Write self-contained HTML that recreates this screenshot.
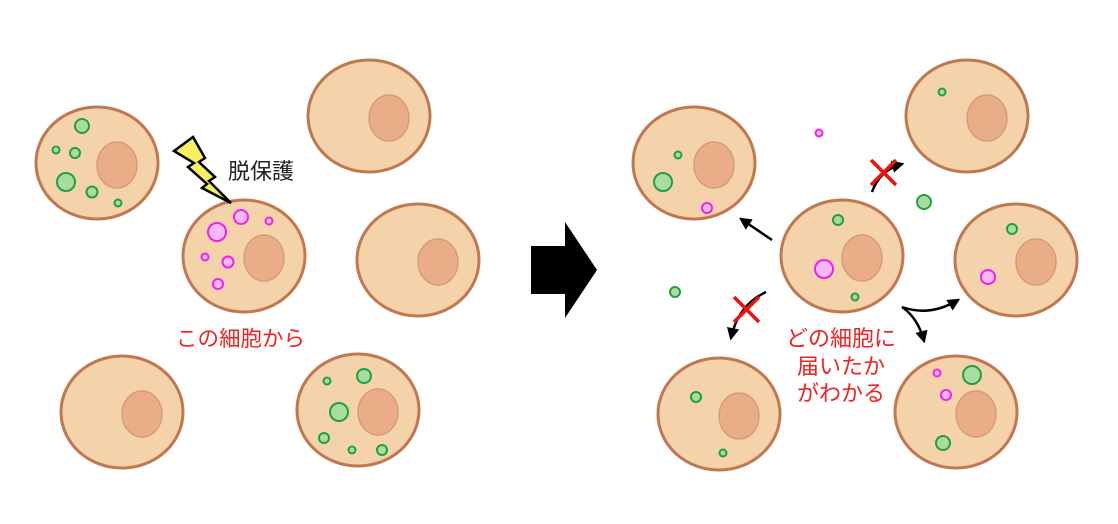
<!DOCTYPE html>
<html><head><meta charset="utf-8"><style>
html,body{margin:0;padding:0;background:#fff;}
svg{display:block;}
text{font-family:"Liberation Sans","Noto Sans CJK JP",sans-serif;}
</style></head><body>
<svg width="1118" height="524" viewBox="0 0 1118 524" xmlns="http://www.w3.org/2000/svg">
<defs>
<g id="cell">
<ellipse cx="0" cy="0" rx="61" ry="56" fill="#f4d2aa" stroke="#c07850" stroke-width="3"/>
<ellipse cx="20" cy="2" rx="20" ry="23" fill="#e9ae88" stroke="#d69c7a" stroke-width="1.5"/>
</g>
<marker id="ah" viewBox="0 0 10 10" refX="8" refY="5" markerWidth="5" markerHeight="5" orient="auto"><path d="M0,0 L10,5 L0,10 z" fill="#000"/></marker>
</defs>
<use href="#cell" x="97" y="163"/>
<use href="#cell" x="369" y="116"/>
<use href="#cell" x="244" y="256"/>
<use href="#cell" x="418" y="260"/>
<use href="#cell" x="122" y="412"/>
<use href="#cell" x="358" y="410"/>
<use href="#cell" x="694" y="163"/>
<use href="#cell" x="967" y="116"/>
<use href="#cell" x="842" y="256"/>
<use href="#cell" x="1016" y="260"/>
<use href="#cell" x="719" y="414"/>
<use href="#cell" x="956" y="412"/>
<g fill="#a8dca0" stroke="#22a040" stroke-width="2">
<circle cx="82" cy="126" r="7"/><circle cx="56" cy="150" r="3.5"/><circle cx="75" cy="153" r="5"/><circle cx="66" cy="182" r="9"/><circle cx="92" cy="192" r="5.5"/><circle cx="118" cy="203" r="3.5"/>
<circle cx="327" cy="381" r="3.5"/><circle cx="364" cy="376" r="7"/><circle cx="339" cy="412" r="9"/><circle cx="324" cy="438" r="5"/><circle cx="352" cy="450" r="3.5"/><circle cx="382" cy="450" r="5"/>
<circle cx="678" cy="155" r="3.5"/><circle cx="663" cy="182" r="9"/><circle cx="942" cy="92" r="3.5"/><circle cx="924" cy="202" r="7"/><circle cx="675" cy="292" r="5"/>
<circle cx="838" cy="220" r="5"/><circle cx="855" cy="297" r="3.5"/><circle cx="1012" cy="229" r="5"/>
<circle cx="696" cy="397" r="5"/><circle cx="723" cy="453" r="3.5"/><circle cx="972" cy="375" r="9"/><circle cx="943" cy="443" r="7"/>
</g>
<g fill="#f8b8f8" stroke="#ee22ee" stroke-width="2">
<circle cx="241" cy="217" r="7"/><circle cx="217" cy="232" r="9"/><circle cx="269" cy="221" r="3.5"/><circle cx="205" cy="257" r="3.5"/><circle cx="228" cy="262" r="5.5"/><circle cx="218" cy="284" r="5"/>
<circle cx="707" cy="208" r="5"/><circle cx="819" cy="133" r="3.5"/><circle cx="824" cy="269" r="9"/><circle cx="988" cy="277" r="7"/><circle cx="937" cy="373" r="3.5"/><circle cx="946" cy="395" r="5"/>
</g>
<polygon points="174,151 193,137 205,158 199,162 215,177 209,181 231,203 202,188 207,184 188,167 194,163" fill="#f8f060" stroke="#000" stroke-width="2.5" stroke-linejoin="miter"/>
<text x="228" y="179" font-size="22" fill="#222">脱保護</text>
<text x="176" y="346" font-size="21.5" fill="#ee2222">この細胞から</text>
<polygon points="531,246 565,246 565,222 597,270 565,318 565,294 531,294" fill="#000"/>
<g fill="none" stroke="#000" stroke-width="2.5" marker-end="url(#ah)">
<path d="M772,240 L741,219"/>
<path d="M872,192 Q880,170 902,164"/>
<path d="M766,292 Q738,305 731,338"/>
<path d="M902,307 Q930,317 958,300"/>
<path d="M902,307 Q918,318 924,341"/>
</g>
<g stroke="#ee1111" stroke-width="3.5">
<line x1="871" y1="160" x2="896" y2="185"/><line x1="896" y1="160" x2="871" y2="185"/>
<line x1="734" y1="297" x2="759" y2="322"/><line x1="759" y1="297" x2="734" y2="322"/>
</g>
<g font-size="22" fill="#ee2222" text-anchor="middle">
<text x="841" y="346">どの細胞に</text>
<text x="841" y="374">届いたか</text>
<text x="841" y="401">がわかる</text>
</g>
</svg>
</body></html>
